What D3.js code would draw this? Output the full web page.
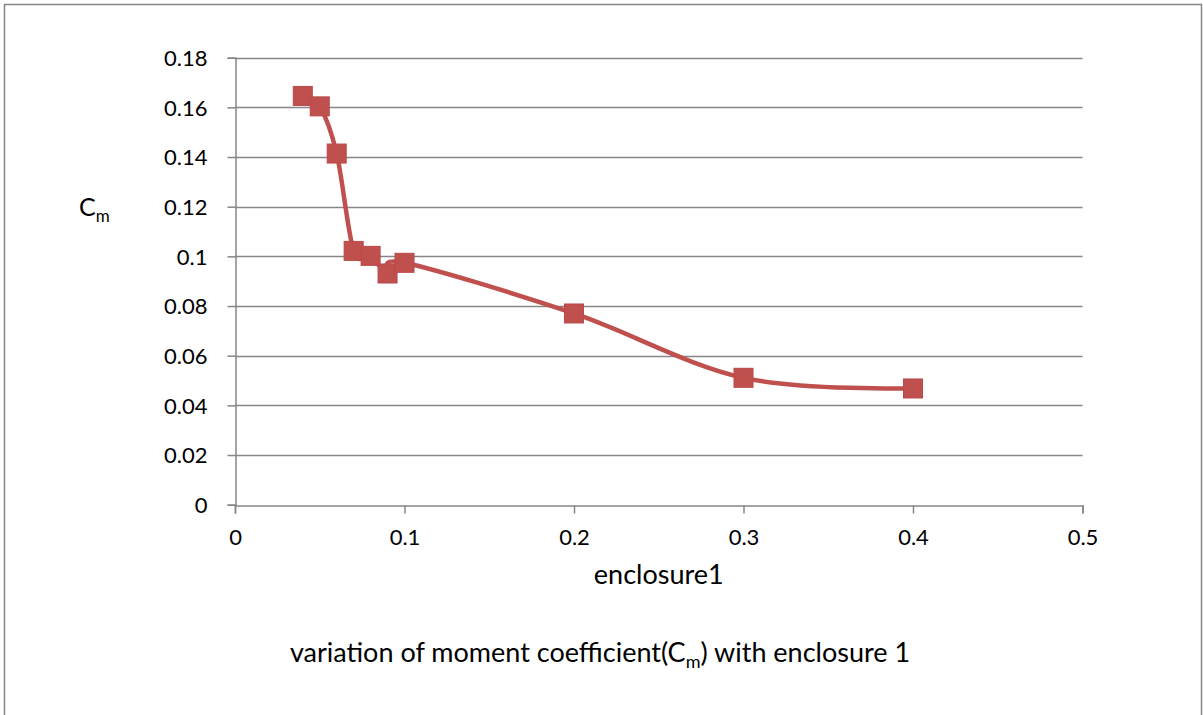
<!DOCTYPE html>
<html>
<head>
<meta charset="utf-8">
<script src="https://cdn.jsdelivr.net/npm/d3@7/dist/d3.min.js"></script>
<style>
  html, body { margin: 0; padding: 0; background: #fff; }
  svg { display: block; font-family: Lato, "Open Sans", sans-serif; }
</style>
</head>
<body>
<svg id="chart" width="1203" height="715"></svg>
<script>
// Moment coefficient Cm against enclosure ratio
const enclosure = [0.04, 0.05, 0.06, 0.07, 0.08, 0.09, 0.1, 0.2, 0.3, 0.4];
const cmValues  = [0.1646, 0.1604, 0.1414, 0.1022, 0.1002, 0.0931, 0.0974, 0.0770, 0.0511, 0.0468];
const xTicks = [0, 0.1, 0.2, 0.3, 0.4, 0.5];
const yTicks = [0, 0.02, 0.04, 0.06, 0.08, 0.1, 0.12, 0.14, 0.16, 0.18];

const margin = { left: 235, right: 1082.5, top: 57.7, bottom: 504.7 };
const gray = "#868686";
const red = "#C0504D";

const svg = d3.select("#chart");

// outer chart frame
svg.append("rect")
  .attr("x", 4.5).attr("y", 4.5)
  .attr("width", 1197).attr("height", 720)
  .attr("fill", "none").attr("stroke", gray).attr("stroke-width", 1.5);

const x = d3.scaleLinear().domain([0, 0.5]).range([margin.left, margin.right]);
const y = d3.scaleLinear().domain([0, 0.18]).range([margin.bottom, margin.top]);

// horizontal gridlines
svg.append("g")
  .selectAll("line")
  .data(yTicks.filter(d => d > 0))
  .join("line")
  .attr("x1", x(0)).attr("x2", x(0.5))
  .attr("y1", d => Math.round(y(d)) + 0.5).attr("y2", d => Math.round(y(d)) + 0.5)
  .attr("stroke", gray).attr("stroke-width", 1.5);

// y axis
const yAxis = svg.append("g")
  .attr("transform", `translate(${Math.round(x(0)) + 0.5},0)`)
  .call(d3.axisLeft(y).tickValues(yTicks).tickSize(8).tickPadding(20)
    .tickFormat(d => d3.format("~g")(d)));
// x axis
const xAxis = svg.append("g")
  .attr("transform", `translate(0,${Math.round(y(0)) + 0.5})`)
  .call(d3.axisBottom(x).tickValues(xTicks).tickSize(8).tickPadding(16)
    .tickFormat(d => d3.format("~g")(d)));

[yAxis, xAxis].forEach(g => {
  g.select(".domain").attr("stroke", gray).attr("stroke-width", 1.5);
  g.selectAll(".tick line").attr("stroke", gray).attr("stroke-width", 1.5);
  g.selectAll(".tick text")
    .attr("fill", "#000")
    .style("font-size", "22px")
    .style("font-family", "Lato, 'Open Sans', sans-serif");
});
yAxis.selectAll(".tick text").attr("dy", "0.36em");

// smoothed series line
const line = d3.line()
  .x((d, i) => x(enclosure[i]))
  .y(d => y(d))
  .curve(d3.curveCardinal.tension(0));

svg.append("path")
  .datum(cmValues)
  .attr("d", line)
  .attr("fill", "none")
  .attr("stroke", red)
  .attr("stroke-width", 4.5)
  .attr("stroke-linejoin", "round");

// square markers
const ms = 19;
svg.append("g")
  .selectAll("rect")
  .data(cmValues)
  .join("rect")
  .attr("x", (d, i) => x(enclosure[i]) - ms / 2)
  .attr("y", d => y(d) - ms / 2)
  .attr("width", ms).attr("height", ms)
  .attr("fill", red)
  .attr("stroke", "#B9484A").attr("stroke-width", 1);

// y axis title
const yt = svg.append("text")
  .attr("x", 79).attr("y", 216)
  .attr("fill", "#000")
  .style("font-size", "25px");
yt.append("tspan").text("C");
yt.append("tspan").attr("dy", 6).style("font-size", "17px").text("m");

// x axis title
svg.append("text")
  .attr("x", (x(0) + x(0.5)) / 2).attr("y", 584)
  .attr("text-anchor", "middle")
  .attr("fill", "#000")
  .style("font-size", "27px")
  .text("enclosure1");

// chart title
const t = svg.append("text")
  .attr("x", 600).attr("y", 662)
  .attr("text-anchor", "middle")
  .attr("fill", "#000")
  .style("font-size", "27px");
t.append("tspan").text("variation of moment coefficient(C");
t.append("tspan").attr("dy", 6).style("font-size", "18px").text("m");
t.append("tspan").attr("dy", -6).text(") with enclosure 1");
</script>
</body>
</html>
